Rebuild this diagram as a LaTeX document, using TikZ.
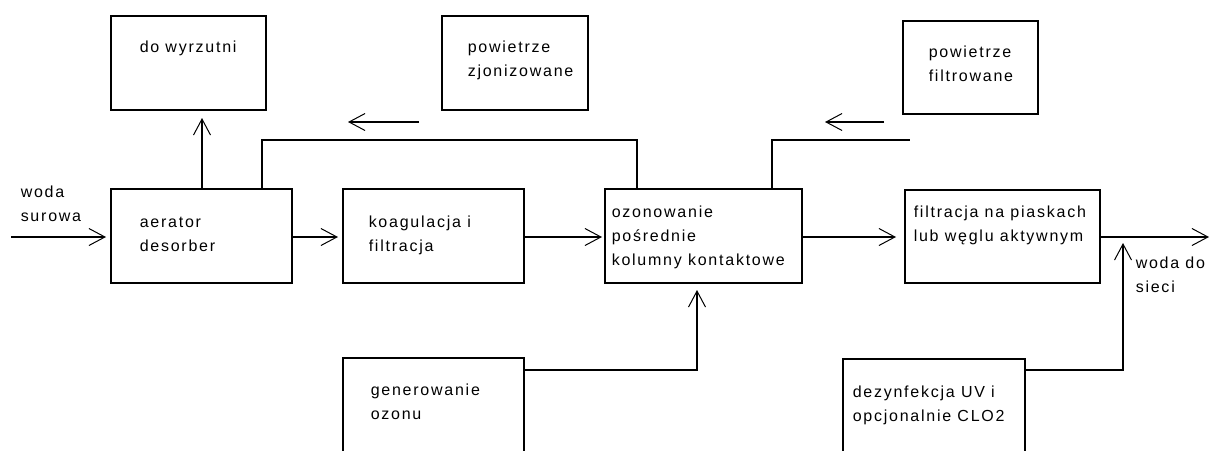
\documentclass[tikz,border=0pt]{standalone}
\usepackage{fontspec}
\setmainfont{Liberation Sans}[LetterSpace=11]
\usetikzlibrary{arrows.meta,calc}
\begin{document}
\begin{tikzpicture}[x=1pt,y=-1pt,
  line width=1.5pt,
  box/.style={draw,rectangle,inner sep=0pt,outer sep=0pt,anchor=north west},
  % multi-line labels are placed by the baseline of their last line
  lbl/.style={anchor=base west,inner sep=0pt,align=left,font=\fontsize{16}{24}\selectfont},
  arr/.style={-{Straight Barb[length=16pt,width=17pt,line width=1pt]}}]
\clip (0,0) rectangle (1215,450);
\fill[white] (0,0) rectangle (1215,450);

% process blocks
\node[box,minimum width=155pt,minimum height=94pt]  (wyr)  at (111,16)  {};
\node[box,minimum width=146pt,minimum height=94pt]  (zjon) at (442,16)  {};
\node[box,minimum width=135pt,minimum height=93pt]  (fair) at (903,21)  {};
\node[box,minimum width=181pt,minimum height=94pt]  (aer)  at (111,189) {};
\node[box,minimum width=181pt,minimum height=94pt]  (koag) at (343,189) {};
\node[box,minimum width=197pt,minimum height=94pt]  (ozon) at (605,189) {};
\node[box,minimum width=195pt,minimum height=93pt]  (filt) at (905,190) {};
\node[box,minimum width=181pt,minimum height=130pt] (gen)  at (343,358) {};
\node[box,minimum width=182pt,minimum height=130pt] (dez)  at (843,359) {};

% labels
\node[lbl] (twyr)  at (139,52)   {do wyrzutni};
\node[lbl] (tzjon) at (467,76)   {powietrze\\zjonizowane};
\node[lbl] (tfair) at (928,81)   {powietrze\\filtrowane};
\node[lbl] (tin)   at (20,221)   {woda\\surowa};
\node[lbl] (taer)  at (139,251)  {aerator\\desorber};
\node[lbl] (tkoag) at (368,251)  {koagulacja i\\filtracja};
\node[lbl] (tozon) at (611,265)  {ozonowanie\\pośrednie\\kolumny kontaktowe};
\node[lbl] (tfilt) at (913,241)  {filtracja na piaskach\\lub węglu aktywnym};
\node[lbl] (tout)  at (1135,292) {woda do\\sieci};
\node[lbl] (tgen)  at (370,419)  {generowanie\\ozonu};
\node[lbl] (tdez)  at (852,421)  {dezynfekcja UV i\\opcjonalnie CLO2};

% free ends
\coordinate (win)  at (11,237);
\coordinate (wout) at (1209,237);
\coordinate (mix)  at (1123,237);
\coordinate (a1s)  at (419,122);
\coordinate (a1e)  at (348,122);
\coordinate (a2s)  at (884,122);
\coordinate (a2e)  at (825,122);
\coordinate (r2e)  at (910,140);

% main water line
\draw[arr,shorten >=5pt] (win) -- (aer.west |- win);
\draw[arr,shorten >=5pt] (aer.east |- win) -- (koag.west |- win);
\draw[arr,shorten >=3pt] (koag.east |- win) -- (ozon.west |- win);
\draw[arr,shorten >=9pt] (ozon.east |- win) -- (filt.west |- win);
\draw[arr] (filt.east |- win) -- (wout);

% exhaust to the stack
\draw[arr,shorten >=8pt] ([xshift=91pt]aer.north west) -- ([xshift=91pt]aer.north west |- wyr.south);

% air lines
\draw ([xshift=151pt]aer.north west) -- ++(0,-49) -| ([xshift=32pt]ozon.north west);
\draw[arr] (a1s) -- (a1e);
\draw ([xshift=167pt]ozon.north west) -- ++(0,-49) -- (r2e);
\draw[arr] (a2s) -- (a2e);

% ozone feed and disinfection
\draw[arr,shorten >=7pt] ([yshift=-12pt]gen.north east) -| ([xshift=92pt]ozon.south west);
\draw[arr,shorten >=6pt] ([yshift=-11pt]dez.north east) -| (mix);
\end{tikzpicture}
\end{document}
